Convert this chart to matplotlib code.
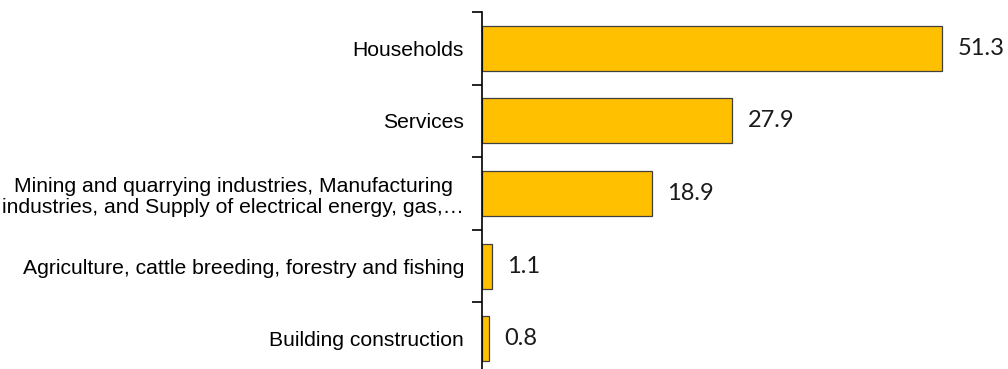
import matplotlib.pyplot as plt

# categories from top to bottom, share of consumption
categories = [
    "Households",
    "Services",
    "Mining and quarrying industries, Manufacturing\nindustries, and Supply of electrical energy, gas,\u2026",
    "Agriculture, cattle breeding, forestry and fishing",
    "Building construction",
]
values = [51.3, 27.9, 18.9, 1.1, 0.8]
value_labels = ["51.3", "27.9", "18.9", "1.1", "0.8"]

fig = plt.figure(figsize=(10.08, 3.69), dpi=100)
# axes bottom sits a little below the picture edge, as in the original
ax = fig.add_axes([482 / 1008, -6 / 369, 526 / 1008, 363 / 369])

pos = list(range(len(categories)))
ax.barh(pos, values, height=0.62, color="#FFC000", edgecolor="#404040", linewidth=0.9)

ax.set_ylim(len(categories) - 0.5, -0.5)
ax.set_xlim(0, 58.6)

# value labels next to each bar
for p, v, lab in zip(pos, values, value_labels):
    ax.text(v + 1.7, p, lab, va="center", ha="left", fontsize=17,
            family=["Lato", "DejaVu Sans"], color="#1a1a1a")

# category labels on major ticks, short dividers on minor ticks between bars
ax.set_yticks(pos)
ax.set_yticklabels(categories, fontsize=15.2, family="Liberation Sans",
                   linespacing=1.15, multialignment="center")
ax.tick_params(axis="y", which="major", length=0, pad=13)
ax.set_yticks([i - 0.5 for i in range(len(categories) + 1)], minor=True)
ax.tick_params(axis="y", which="minor", length=7, width=1.2, direction="out", color="black")

ax.set_xticks([])
for s in ["top", "right", "bottom"]:
    ax.spines[s].set_visible(False)
ax.spines["left"].set_linewidth(1.2)

fig.savefig("out.png", dpi=100)
